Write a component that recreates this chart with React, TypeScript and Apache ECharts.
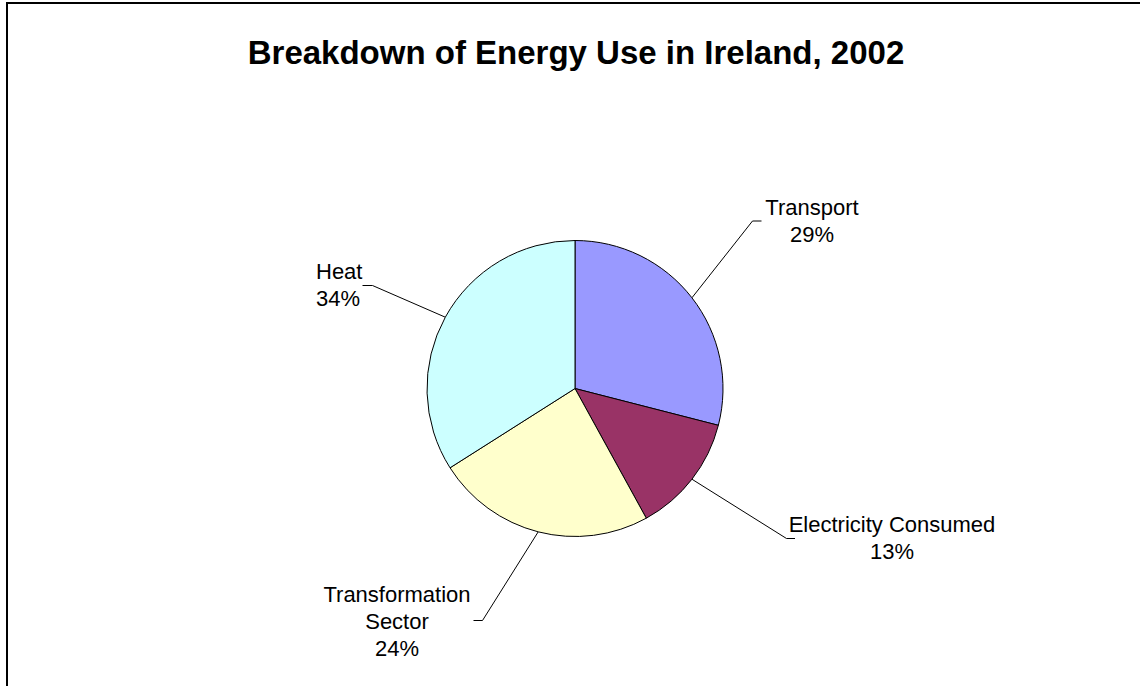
import React, { useEffect, useRef } from "react";
import * as echarts from "echarts";

const titleText = "Breakdown of Energy Use in Ireland, 2002";
const categories = ["Transport", "Electricity Consumed", "Transformation\nSector", "Heat"];
const shares = [29, 13, 24, 34];
const colors = ["#9999FF", "#993366", "#FFFFCC", "#CCFFFF"];

// label placement (layout only)
const labelPlacement = [
  { x: 812, y: 221, align: "center", elbow: [752.5, 221], end: [761.5, 221] },
  { x: 892, y: 538, align: "center", elbow: [786.5, 538.5], end: [795, 538.5] },
  { x: 397, y: 621, align: "center", elbow: [482.5, 620.5], end: [473.5, 620.5] },
  { x: 316, y: 285, align: "left", elbow: [372.5, 285.5], end: [362.5, 285.5] },
];

export default function App() {
  const ref = useRef<HTMLDivElement>(null);
  useEffect(() => {
    if (!ref.current) return;
    const chart = echarts.init(ref.current, undefined, { renderer: "svg" });
    const font = "'Liberation Sans', Arial, sans-serif";
    chart.setOption({
      animation: false,
      backgroundColor: "#ffffff",
      graphic: [
        {
          type: "rect",
          shape: { x: 7, y: 3, width: 1160, height: 720 },
          style: { fill: "none", stroke: "#000", lineWidth: 2 },
          silent: true,
        },
        {
          type: "text",
          x: 576,
          y: 52,
          style: {
            text: titleText,
            fontFamily: font,
            fontSize: 33,
            fontWeight: "bold",
            fill: "#000",
            align: "center",
            verticalAlign: "middle",
          },
        },
      ],
      series: [
        {
          type: "pie",
          center: [575, 388.5],
          radius: 148,
          startAngle: 90,
          clockwise: true,
          avoidLabelOverlap: false,
          emphasis: { disabled: true },
          itemStyle: { borderColor: "#000", borderWidth: 1 },
          label: {
            show: true,
            position: "outside",
            fontFamily: font,
            fontSize: 22,
            lineHeight: 27,
            color: "#000",
            formatter: (p: any) => `${p.name}\n${Math.round(p.percent)}%`,
          },
          labelLine: {
            show: true,
            length: 40,
            length2: 10,
            lineStyle: { color: "#000", width: 1 },
          },
          labelLayout: (params: any) => {
            const L = labelPlacement[params.dataIndex];
            const pts = params.labelLinePoints;
            const res: any = {
              x: L.x,
              y: L.y,
              align: L.align,
              verticalAlign: "middle",
            };
            if (pts && pts[0]) res.labelLinePoints = [pts[0], L.elbow, L.end];
            return res;
          },
          data: categories.map((name, i) => ({
            name,
            value: shares[i],
            itemStyle: { color: colors[i] },
          })),
        },
      ],
    });
    return () => chart.dispose();
  }, []);
  return (
    <div
      ref={ref}
      style={{ position: "fixed", left: 0, top: 0, width: 1140, height: 686, background: "#fff" }}
    />
  );
}
